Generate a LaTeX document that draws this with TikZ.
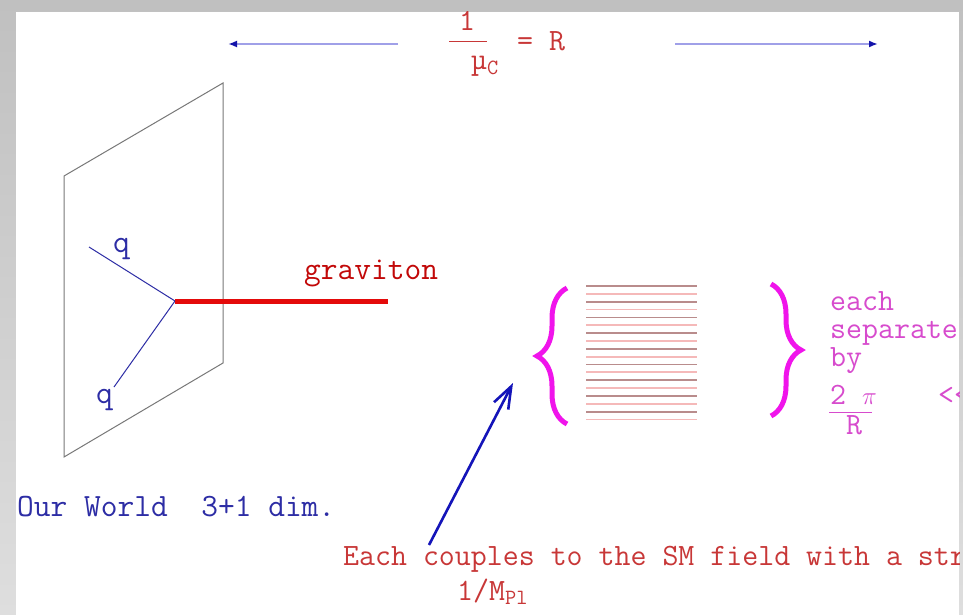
\documentclass[tikz,border=0pt]{standalone}
\usepackage{fontspec}
\usetikzlibrary{arrows.meta, decorations.pathreplacing, positioning}
\definecolor{bgtop}{RGB}{192,192,192}
\definecolor{bgbot}{RGB}{222,222,222}
\definecolor{textred}{RGB}{200,55,55}
\definecolor{gravred}{RGB}{228,10,10}
\definecolor{worldblue}{RGB}{45,45,165}
\definecolor{lineblue}{RGB}{160,160,232}
\definecolor{tipblue}{RGB}{20,20,170}
\definecolor{pointblue}{RGB}{20,20,185}
\definecolor{magen}{RGB}{240,20,235}
\definecolor{magtext}{RGB}{215,75,205}
\definecolor{stripdark}{RGB}{185,140,140}
\definecolor{strippink}{RGB}{245,185,185}
\definecolor{planegray}{RGB}{120,120,120}
\tikzset{
  txt/.style={font=\ttfamily\fontsize{31}{35}\selectfont, inner sep=0pt},
  redtxt/.style={txt, text=textred},
  bluetxt/.style={txt, font=\ttfamily\fontsize{32.5}{36}\selectfont, text=worldblue},
  magtxt/.style={txt, text=magtext},
  plane/.style={draw=planegray, line width=1pt},
  quark/.style={draw=worldblue, line width=1pt},
  gravline/.style={draw=gravred, line width=5pt},
  radius/.style={draw=lineblue, line width=1.8pt,
                 -{Latex[length=9pt, width=7pt, color=tipblue]}},
  kkbrace/.style={draw=magen, line width=5pt, decorate,
                  decoration={brace, amplitude=30pt, aspect=0.5}},
  pointer/.style={draw=pointblue, line width=2.6pt,
                  -{Straight Barb[length=22pt, width=16pt]}}
}
\begin{document}
\begin{tikzpicture}[x=1pt, y=-1pt]
  \useasboundingbox (0,0) rectangle (963,615);
  \shade[top color=bgtop, bottom color=bgbot] (0,0) rectangle (963,615);
  \fill[white] (16,12) rectangle (959,615);
  \begin{scope}
    \clip (16,12) rectangle (959,615);
    % compact radius
    \node[redtxt, anchor=base] (one) at (467,31) {1};
    \node[redtxt, anchor=base west] (mu) at (471,70) {\symbol{"00B5}\textsubscript{C}};
    \node[redtxt, anchor=base west] (eqR) at (517,51) {= R};
    \draw[textred, line width=1pt] (449,42) -- (487,42);
    \coordinate (lstart) at (398,44);
    \coordinate (lend)   at (228,44);
    \coordinate (rstart) at (675,44);
    \coordinate (rend)   at (878,44);
    \draw[radius] (lstart) -- (lend);
    \draw[radius] (rstart) -- (rend);
    % the brane
    \draw[plane] (64,176) -- (223,83) -- (223,363) -- (64,457) -- cycle;
    \coordinate (vtx) at (175,301);
    \coordinate (q1)  at (89,247);
    \coordinate (q2)  at (114,387);
    \coordinate (gend) at (388,301);
    \draw[quark] (q1) -- (vtx);
    \draw[quark] (q2) -- (vtx);
    \draw[gravline] (vtx) -- (gend);
    \node[bluetxt, anchor=base west] (qup) at (113,252) {q};
    \node[bluetxt, anchor=base west] (qdown) at (96,403) {q};
    \node[redtxt, font=\ttfamily\fontsize{32.5}{36}\selectfont, anchor=base west,
          text=gravred!85!black] (grav) at (304,279) {graviton};
    % Kaluza-Klein tower
    \foreach \i in {0,2,...,16}
      \draw[stripdark, line width=1.8pt] (586,286+\i*7.85) -- (697,286+\i*7.85);
    \foreach \i in {1,3,...,17}
      \draw[strippink, line width=1.8pt] (586,286+\i*7.85) -- (697,286+\i*7.85);
    \draw[kkbrace] (567,424) -- (567,288);
    \draw[kkbrace] (771,284) -- (771,416);
    \node[magtxt, anchor=base west] (each) at (830,310) {each};
    \node[magtxt, anchor=base west] (sep)  at (830,338) {separate};
    \node[magtxt, anchor=base west] (by)   at (830,366) {by};
    \node[magtxt, anchor=base west] (twopi) at (830,404) {2 $\pi$};
    \draw[magtext, line width=1pt] (829,412) -- (872,412);
    \node[magtxt, anchor=base west] (rr) at (846,434) {R};
    \node[magtxt, anchor=base west] (ll) at (938,404) {<<};
    % our world
    \node[bluetxt, anchor=base west] (world) at (17,516) {Our World\ \ 3+1 dim.};
    \node[redtxt, anchor=base west] (couple) at (343,565)
      {Each couples to the SM field with a str};
    \node[redtxt, anchor=base west] (mpl) at (457,600) {1/M\textsubscript{Pl}};
    \coordinate (ptail) at (429,545);
    \coordinate (ptip)  at (513,383);
    \draw[pointer] (ptail) -- (ptip);
  \end{scope}
\end{tikzpicture}
\end{document}
